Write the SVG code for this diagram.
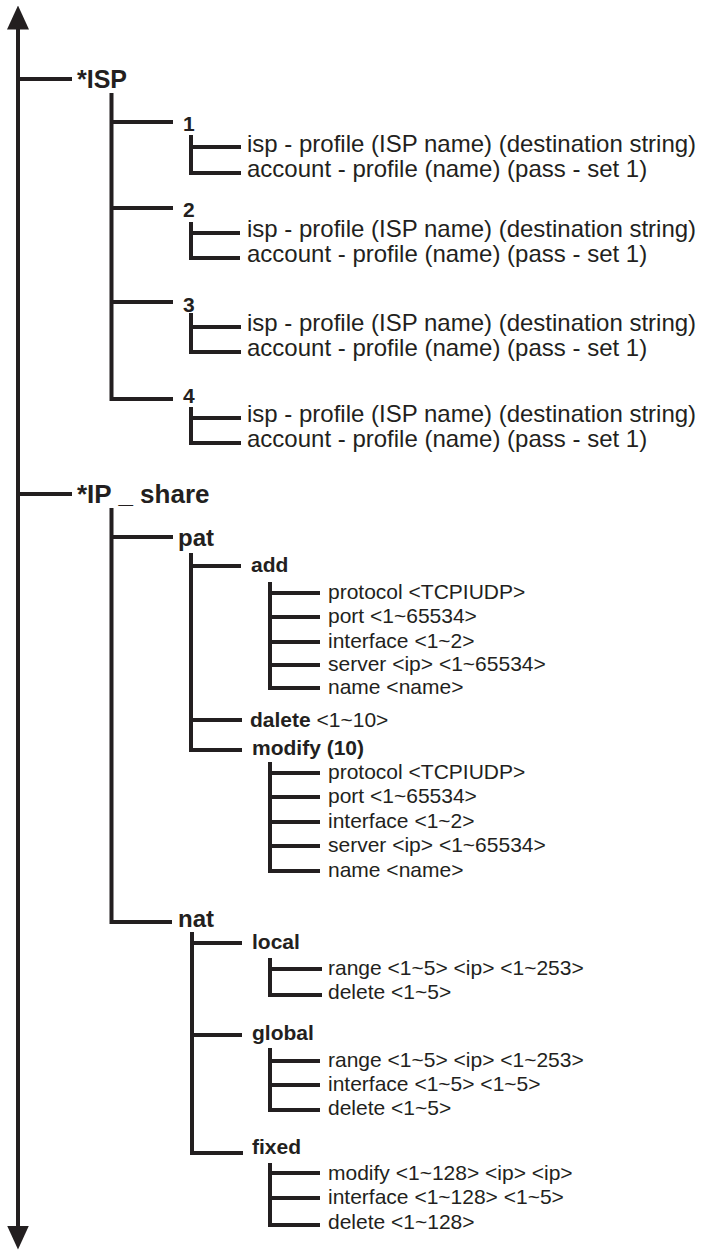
<svg xmlns="http://www.w3.org/2000/svg" width="701" height="1252" viewBox="0 0 701 1252">
<style>
text{font-family:"Liberation Sans",Arial,Helvetica,sans-serif;fill:#231f20}
.top{font-weight:bold;font-size:25px}
.top2{font-weight:bold;font-size:26px}
.num{font-weight:bold;font-size:21px}
.big{font-size:24px}
.l2{font-weight:bold;font-size:24px}
.l3{font-weight:bold;font-size:21px}
.lf{font-size:21px}
.b{font-weight:bold}
.c{fill:none;stroke:#231f20;stroke-width:4;stroke-linejoin:miter;stroke-linecap:butt}
</style>
<defs>
<marker id="arr" viewBox="0 0 24 22" refX="0.5" refY="11" markerWidth="24" markerHeight="22" markerUnits="userSpaceOnUse" orient="auto-start-reverse">
<path d="M0,0 L24,11 L0,22 z" fill="#231f20"/>
</marker>
</defs>
<g id="connectors" class="c">
<path d="M18,1226 V29" marker-start="url(#arr)" marker-end="url(#arr)"/>
<path d="M18,79 H72 M18,494 H72"/>
<path d="M111.5,93 V399 H173 M111.5,122 H173 M111.5,208 H173 M111.5,302 H173"/>
<path d="M191,135 V173 H241 M191,147 H241"/>
<path d="M191,222 V258 H240 M191,233 H240"/>
<path d="M191,313 V352 H241 M191,327 H241"/>
<path d="M191,407 V443 H241 M191,418 H241"/>
<path d="M111.5,508 V922 H172 M111.5,537 H173"/>
<path d="M191,553 V750 H242 M191,566 H241 M191,720 H242"/>
<path d="M270,582 V688 H320 M270,593 H320 M270,617 H320 M270,642 H320 M270,665 H320"/>
<path d="M270,762 V871 H320 M270,773 H320 M270,797 H320 M270,822 H320 M270,846 H320"/>
<path d="M192,932 V1153 H243 M192,943 H242 M192,1035 H242"/>
<path d="M270,958 V995 H322 M270,969 H322"/>
<path d="M270,1048 V1110 H320 M270,1061 H320 M270,1085 H320"/>
<path d="M270,1163 V1225 H320 M270,1173 H320 M270,1198 H320"/>
</g>
<g id="isp"><text class="top" x="77" y="88">*ISP</text></g>
<g id="isp-1">
<text class="num" x="183" y="131">1</text>
<text class="big" x="247" y="152">isp - profile (ISP name) (destination string)</text>
<text class="big" x="247" y="177">account - profile (name) (pass - set 1)</text>
</g>
<g id="isp-2">
<text class="num" x="183" y="217">2</text>
<text class="big" x="247" y="237">isp - profile (ISP name) (destination string)</text>
<text class="big" x="247" y="262">account - profile (name) (pass - set 1)</text>
</g>
<g id="isp-3">
<text class="num" x="183" y="312">3</text>
<text class="big" x="247" y="331">isp - profile (ISP name) (destination string)</text>
<text class="big" x="247" y="356">account - profile (name) (pass - set 1)</text>
</g>
<g id="isp-4">
<text class="num" x="183" y="403">4</text>
<text class="big" x="247" y="422">isp - profile (ISP name) (destination string)</text>
<text class="big" x="247" y="447">account - profile (name) (pass - set 1)</text>
</g>
<g id="ip-share"><text class="top2" x="77" y="503">*IP _ share</text></g>
<g id="pat"><text class="l2" x="178" y="546">pat</text></g>
<g id="pat-add">
<text class="l3" x="251" y="572">add</text>
<text class="lf" x="328" y="599">protocol &lt;TCPIUDP&gt;</text>
<text class="lf" x="328" y="623">port &lt;1~65534&gt;</text>
<text class="lf" x="328" y="648">interface &lt;1~2&gt;</text>
<text class="lf" x="328" y="671">server &lt;ip&gt; &lt;1~65534&gt;</text>
<text class="lf" x="328" y="694">name &lt;name&gt;</text>
</g>
<g id="pat-dalete"><text class="lf" x="250" y="727"><tspan class="b">dalete</tspan> &lt;1~10&gt;</text></g>
<g id="pat-modify">
<text class="l3" x="252" y="755">modify (10)</text>
<text class="lf" x="328" y="779">protocol &lt;TCPIUDP&gt;</text>
<text class="lf" x="328" y="803">port &lt;1~65534&gt;</text>
<text class="lf" x="328" y="828">interface &lt;1~2&gt;</text>
<text class="lf" x="328" y="852">server &lt;ip&gt; &lt;1~65534&gt;</text>
<text class="lf" x="328" y="877">name &lt;name&gt;</text>
</g>
<g id="nat"><text class="l2" x="178" y="927">nat</text></g>
<g id="nat-local">
<text class="l3" x="252" y="949">local</text>
<text class="lf" x="328" y="975">range &lt;1~5&gt; &lt;ip&gt; &lt;1~253&gt;</text>
<text class="lf" x="328" y="999">delete &lt;1~5&gt;</text>
</g>
<g id="nat-global">
<text class="l3" x="252" y="1040">global</text>
<text class="lf" x="328" y="1067">range &lt;1~5&gt; &lt;ip&gt; &lt;1~253&gt;</text>
<text class="lf" x="328" y="1091">interface &lt;1~5&gt; &lt;1~5&gt;</text>
<text class="lf" x="328" y="1115">delete &lt;1~5&gt;</text>
</g>
<g id="nat-fixed">
<text class="l3" x="252" y="1154">fixed</text>
<text class="lf" x="328" y="1180">modify &lt;1~128&gt; &lt;ip&gt; &lt;ip&gt;</text>
<text class="lf" x="328" y="1204">interface &lt;1~128&gt; &lt;1~5&gt;</text>
<text class="lf" x="328" y="1229">delete &lt;1~128&gt;</text>
</g>
</svg>
